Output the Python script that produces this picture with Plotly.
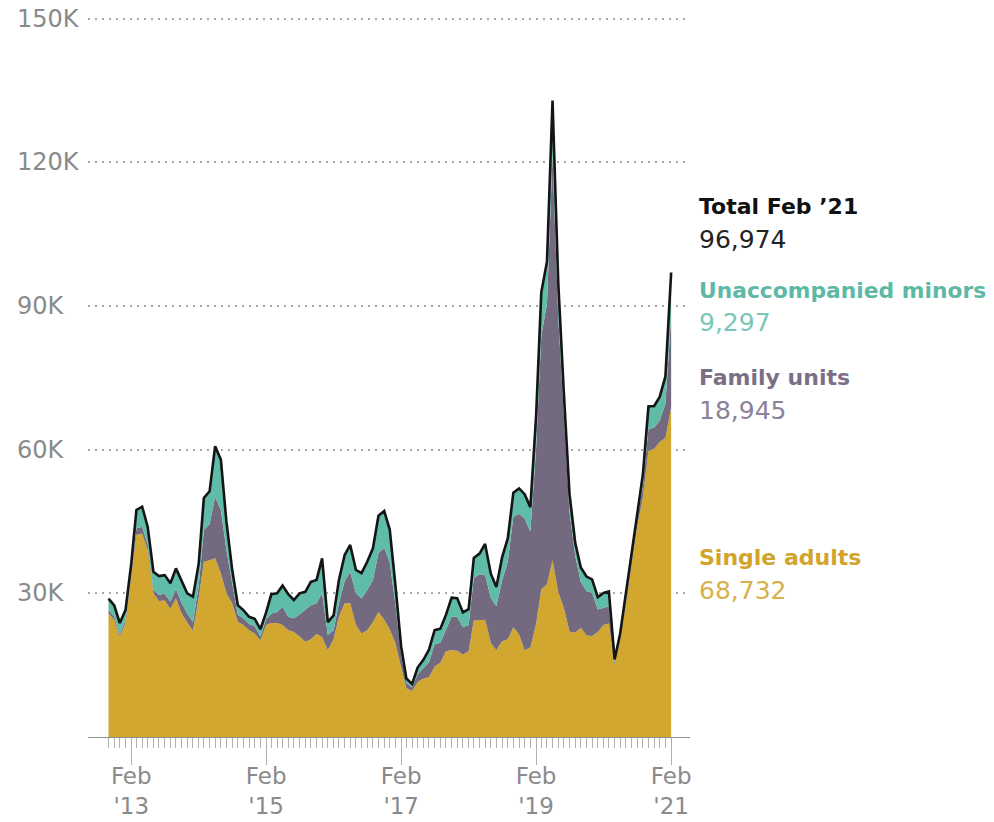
import pandas as pd
import plotly.graph_objects as go

# Monthly Border Patrol apprehensions at the U.S.-Mexico border, Oct 2012 - Feb 2021 (thousands)
months = pd.date_range("2012-10-01", periods=101, freq="MS")

single_adults = [
    25.8, 24.5, 20.9, 23.8, 33.5, 42.2, 42.5, 39.0, 30.0, 28.4, 28.5, 26.8,
    28.9, 25.8, 23.9, 22.2, 29.0, 36.6, 36.9, 37.3, 34.2, 30.0, 27.9, 24.0,
    23.4, 22.3, 21.6, 20.2, 23.4, 23.8, 23.8, 23.4, 22.3, 21.9, 21.0, 19.9,
    20.4, 21.5, 20.9, 18.1, 20.4, 25.1, 27.9, 27.9, 23.4, 21.6, 22.3, 24.0,
    26.1, 24.5, 22.5, 19.5, 14.5, 10.2, 9.6, 11.5, 12.2, 12.5, 14.7, 15.5,
    17.9, 18.1, 18.0, 17.2, 17.9, 24.3, 24.4, 24.5, 19.7, 18.1, 20.0, 20.4,
    22.9, 21.4, 18.1, 18.7, 23.6, 30.8, 31.9, 36.9, 30.2, 27.0, 22.0, 21.8,
    22.8, 21.2, 21.1, 21.9, 23.4, 23.7, 15.1, 20.1, 27.7, 35.6, 44.0, 50.0,
    59.7, 60.2, 61.6, 62.5, 68.732,
]
family_units = [
    0.7, 0.6, 0.5, 0.6, 0.7, 1.4, 1.4, 1.2, 0.7, 1.3, 1.4, 1.5,
    2.0, 2.2, 1.9, 1.8, 2.5, 6.6, 7.5, 12.9, 13.2, 9.1, 4.3, 1.5,
    1.4, 1.3, 1.5, 0.8, 1.2, 2.0, 2.3, 3.8, 2.8, 2.9, 4.6, 6.6,
    7.1, 6.4, 9.1, 3.2, 1.9, 2.8, 4.6, 6.6, 6.6, 7.3, 8.4, 8.8,
    12.3, 15.0, 14.0, 8.1, 2.6, 1.1, 0.8, 1.6, 2.1, 3.1, 4.7, 4.2,
    4.5, 7.0, 7.1, 5.7, 5.5, 8.9, 9.6, 9.4, 9.4, 9.2, 12.7, 16.2,
    23.1, 25.2, 27.5, 24.2, 36.5, 53.0, 58.5, 84.5, 57.3, 39.4, 24.9, 16.0,
    9.6, 9.3, 9.0, 4.7, 3.6, 3.6, 0.4, 0.5, 0.7, 1.2, 1.5, 2.2,
    4.6, 4.4, 4.5, 7.1, 18.945,
]
unaccompanied_minors = [
    2.4, 2.4, 2.4, 2.1, 2.0, 3.8, 4.2, 3.7, 3.8, 3.9, 3.9, 3.8,
    4.3, 4.4, 4.2, 5.3, 4.7, 6.7, 6.9, 10.5, 10.5, 5.9, 2.8, 2.0,
    1.7, 1.5, 1.6, 1.5, 1.4, 4.0, 3.9, 4.4, 4.7, 3.8, 4.4, 3.8,
    4.9, 4.9, 7.3, 2.7, 3.1, 4.9, 5.5, 5.6, 4.9, 5.3, 5.9, 6.6,
    7.8, 7.7, 6.8, 4.0, 1.7, 0.9, 0.7, 1.4, 1.8, 2.6, 2.9, 2.9,
    3.1, 4.0, 3.9, 3.1, 3.3, 4.2, 4.3, 6.4, 5.0, 4.0, 4.8, 4.9,
    5.0, 5.3, 5.1, 5.1, 6.8, 9.0, 8.9, 11.5, 7.4, 5.6, 3.8, 2.7,
    3.0, 3.0, 2.8, 2.6, 3.1, 3.1, 0.7, 1.0, 1.6, 1.2, 1.8, 2.6,
    4.7, 4.5, 4.9, 5.7, 9.297,
]
total = [a + b + c for a, b, c in zip(single_adults, family_units, unaccompanied_minors)]

y_ticks = [30, 60, 90, 120, 150]
y_tick_labels = ["30K", "60K", "90K", "120K", "150K"]
major_ticks = pd.date_range("2013-02-01", "2021-02-01", freq="12MS")
major_tick_labels = ["Feb<br>'13", "", "Feb<br>'15", "", "Feb<br>'17", "", "Feb<br>'19", "", "Feb<br>'21"]

GOLD = "#D2A730"
PURPLE = "#746A7F"
TEAL = "#5FBCA9"
GRAY = "#8a8a8a"
FONT = "DejaVu Sans"

fig = go.Figure()
for name, vals, col in [
    ("Single adults", single_adults, GOLD),
    ("Family units", family_units, PURPLE),
    ("Unaccompanied minors", unaccompanied_minors, TEAL),
]:
    fig.add_trace(go.Scatter(
        x=months, y=vals, name=name, stackgroup="one", mode="lines",
        line=dict(width=0, color=col), fillcolor=col, hoverinfo="skip",
    ))
fig.add_trace(go.Scatter(
    x=months, y=total, name="Total", mode="lines",
    line=dict(color="#151515", width=2.6), hoverinfo="skip",
))

W, H = 994, 822
L, R, B = 88, 690, 736.6
PX_PER_K = (736.6 - 19) / 150.0
YMAX = 152
T = B - YMAX * PX_PER_K

fig.update_layout(
    width=W, height=H,
    margin=dict(l=L, r=W - R, t=T, b=H - B, pad=0, autoexpand=False),
    paper_bgcolor="white", plot_bgcolor="white",
    showlegend=False,
    font=dict(family=FONT, color=GRAY),
    xaxis=dict(
        type="date", range=["2012-06-12", "2021-05-14"], automargin=False,
        tickmode="array", tickvals=list(major_ticks), ticktext=major_tick_labels,
        ticks="outside", ticklen=27, tickwidth=1, tickcolor="#b0b0b0",
        ticklabelstandoff=-9,
        tickfont=dict(size=23, color=GRAY, family=FONT),
        showline=True, linecolor="#8f8f8f", linewidth=1.2,
        showgrid=False, zeroline=False,
        minor=dict(tickmode="array", tickvals=list(months), ticks="outside",
                   ticklen=10, tickwidth=1, tickcolor="#b0b0b0", showgrid=False),
    ),
    yaxis=dict(
        range=[0, YMAX], tickmode="array", tickvals=y_ticks, automargin=False,
        showticklabels=False, ticks="",
        showgrid=True, gridcolor="#a8a8a8", gridwidth=1.6, griddash="2px,5px",
        zeroline=False, showline=False,
    ),
)

ann = []
for v, t in zip(y_ticks, y_tick_labels):
    ann.append(dict(x=(15 - L) / (R - L), xref="paper", y=v, yref="y",
                    text=t, showarrow=False, xanchor="left", yanchor="middle",
                    font=dict(size=24, color=GRAY, family=FONT)))

ax = (697 - L) / (R - L)
def yv(py):
    return (B - py) / PX_PER_K

labels = [
    ("<b>Total Feb ’21</b>", 207, 22, "#111111"),
    ("96,974", 240, 25, "#222222"),
    ("<b>Unaccompanied minors</b>", 291, 21.8, "#5DB9A5"),
    ("9,297", 323, 25, "#79C7B6"),
    ("<b>Family units</b>", 378, 22, "#7A6F87"),
    ("18,945", 410, 25, "#8C829A"),
    ("<b>Single adults</b>", 557, 22, "#D1A42C"),
    ("68,732", 590, 25, "#D8B04A"),
]
for text, py, size, col in labels:
    ann.append(dict(x=ax, xref="paper", y=yv(py), yref="y", text=text,
                    showarrow=False, xanchor="left", yanchor="middle",
                    font=dict(size=size, color=col, family=FONT)))
fig.update_layout(annotations=ann)

fig.write_html("out.html", config={"displayModeBar": False},
               post_script="document.body.style.margin='0px';")
